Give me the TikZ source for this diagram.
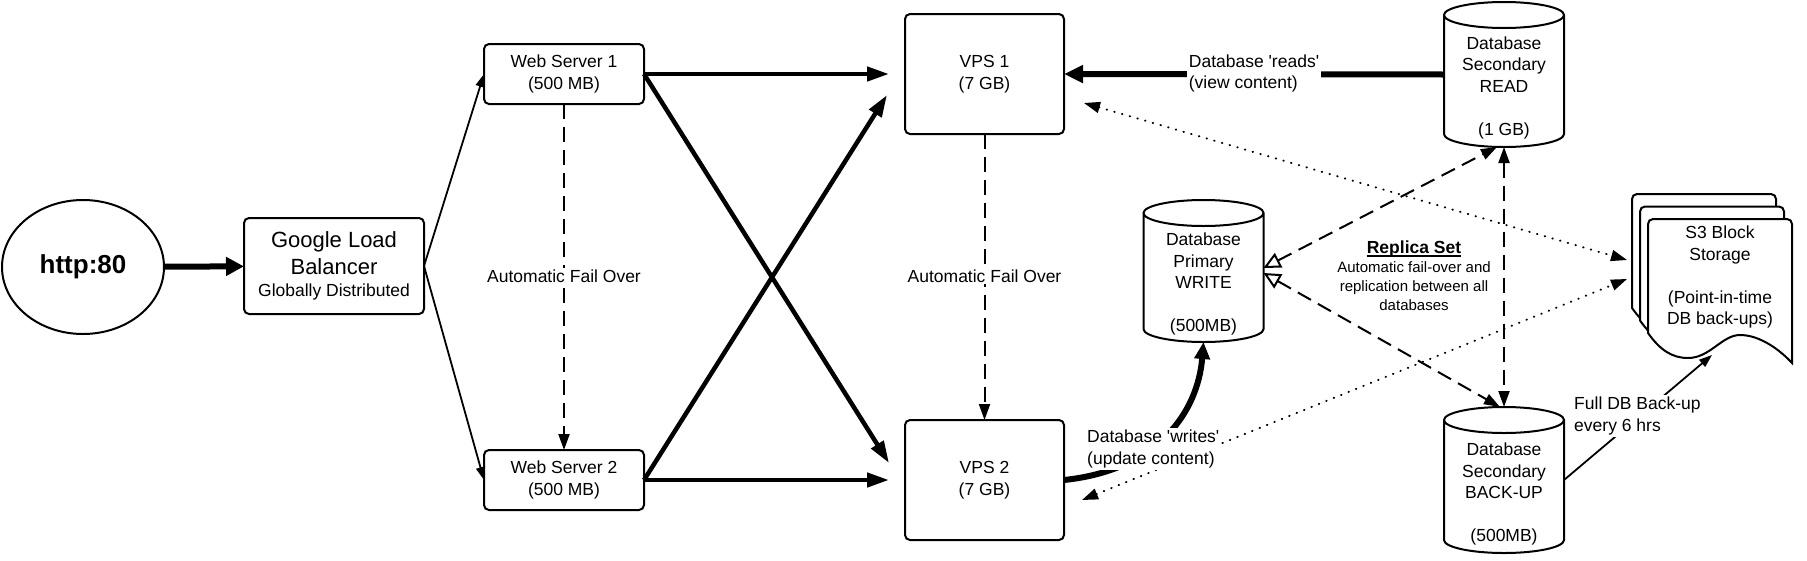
\documentclass[tikz,border=0pt]{standalone}
\usepackage{fontspec}
\setmainfont{Liberation Sans}
\usetikzlibrary{arrows.meta,shapes.geometric}
\newcommand{\drawcyl}[1]{%
  \draw[line width=2pt] ([yshift=-13pt]#1.north west) -- ([yshift=13pt]#1.south west)
    arc[start angle=180,end angle=360,x radius=60pt,y radius=13pt]
    -- ([yshift=-13pt]#1.north east)
    arc[start angle=0,end angle=360,x radius=60pt,y radius=13pt];}
\newcommand{\drawdoc}[1]{%
  \draw[line width=2pt,fill=white,shift={(-#1,1.5625*#1)}]
    (1648,-333) [rounded corners=5pt] -- (1648,-219) -- (1792,-219) -- (1792,-290) [sharp corners] -- (1792,-363)
    .. controls (1780,-350) and (1760,-335) .. (1740,-335)
    .. controls (1722,-335) and (1710,-358) .. (1688,-358)
    .. controls (1672,-358) and (1660,-350) .. (1648,-333) -- cycle;}
\begin{document}
\begin{tikzpicture}[x=1pt,y=1pt,
  every node/.style={font=\fontsize{17.5}{21.5}\selectfont},
  box/.style={draw,line width=2pt,rounded corners=5pt,align=center,inner sep=0pt,outer sep=0pt},
  holder/.style={inner sep=0pt,outer sep=0pt,minimum width=120pt},
  txt/.style={align=center,inner sep=0pt},
  lbl/.style={fill=white,align=left,inner sep=2pt},
  fatarrow/.style={line width=6pt,-{Triangle[length=19pt,width=17pt]}},
  medarrow/.style={line width=4.5pt,-{Triangle[length=22pt,width=14pt]}},
  thinarrow/.style={line width=1.8pt,-{Triangle[length=13pt,width=9pt]}},
  dashline/.style={line width=2pt,dash pattern=on 15pt off 8pt},
  dotline/.style={line width=2pt,line cap=round,dash pattern=on 0.5pt off 7.5pt},
  failtxt/.style={fill=white,inner sep=2pt}
]
\useasboundingbox (0,0) rectangle (1807,-560);

% nodes
\node[ellipse,draw,line width=2pt,minimum width=162pt,minimum height=134pt,inner sep=0pt,
      font=\fontsize{26}{30}\selectfont\bfseries] (http) at (83,-267) {http:80};
\node[box,minimum width=180pt,minimum height=96pt] (lb) at (334,-266) {};
\node[txt,font=\fontsize{22}{27}\selectfont] (lbt) at (334,-253.5) {Google Load\\Balancer};
\node[txt] (lbs) at (334,-291.5) {Globally Distributed};

\node[box,minimum width=160pt,minimum height=60pt] (ws1) at (564,-74) {Web Server 1\\(500 MB)};
\node[box,minimum width=160pt,minimum height=60pt] (ws2) at (564,-480) {Web Server 2\\(500 MB)};
\node[box,minimum width=159pt,minimum height=120pt] (vps1) at (984.5,-74) {VPS 1\\(7 GB)};
\node[box,minimum width=159pt,minimum height=120pt] (vps2) at (984.5,-480) {VPS 2\\(7 GB)};

\node[holder,minimum height=145pt] (dbread) at (1504,-74.5) {};
\node[holder,minimum height=142pt] (dbprim) at (1203.5,-271) {};
\node[holder,minimum height=146pt] (dbback) at (1504,-480) {};
\drawcyl{dbread}
\drawcyl{dbprim}
\drawcyl{dbback}
\node[txt] (dbreadt) at ([yshift=-13pt]dbread.center) {Database\\Secondary\\READ\\\mbox{}\\(1 GB)};
\node[txt] (dbprimt) at ([yshift=-13pt]dbprim.center) {Database\\Primary\\WRITE\\\mbox{}\\(500MB)};
\node[txt] (dbbackt) at ([yshift=-14pt]dbback.center) {Database\\Secondary\\BACK-UP\\\mbox{}\\(500MB)};

\drawdoc{16}
\drawdoc{8}
\drawdoc{0}
\node[inner sep=0pt,outer sep=0pt,minimum width=144pt,minimum height=144pt] (s3) at (1720,-291) {};
\node[txt] (s3t) at (1720,-277) {S3 Block\\Storage\\\mbox{}\\(Point-in-time\\DB back-ups)};
\coordinate (s3wave) at (1712,-355);

\node[txt,font=\fontsize{17.5}{19}\selectfont\bfseries] (rtitle) at (1414,-248.8) {Replica Set};
\draw[line width=1.4pt] ([yshift=1pt]rtitle.south west) -- ([yshift=1pt]rtitle.south east);
\node[txt,font=\fontsize{15}{19}\selectfont] (replica) at (1414,-286)
  {Automatic fail-over and\\replication between all\\databases};

% connectors
\draw[line width=6pt,-{Triangle[length=18pt,width=18pt]}] (http) -- (lb);
\draw[thinarrow] (lb.east) -- (ws1.west);
\draw[thinarrow] (lb.east) -- (ws2.west);

\draw[medarrow] (ws1.east) -- ([xshift=-16pt]vps1.west);
\draw[medarrow] (ws1.east) -- ([xshift=-16pt,yshift=17pt]vps2.west);
\draw[medarrow] (ws2.east) -- ([xshift=-18pt,yshift=-21pt]vps1.west);
\draw[medarrow] (ws2.east) -- ([xshift=-16pt]vps2.west);

\draw[dashline,-{Triangle[length=16pt,width=11pt]}] (ws1) -- node[failtxt,yshift=1pt] {Automatic Fail Over} (ws2);
\draw[dashline,-{Triangle[length=16pt,width=11pt]}] (vps1) -- node[failtxt,yshift=1pt] {Automatic Fail Over} (vps2);

\draw[fatarrow] (dbread.west) -- node[lbl,yshift=1pt] {Database \textquotesingle reads\textquotesingle\\(view content)} (vps1.east);

\draw[dotline,{Triangle[length=16pt,width=11pt]}-{Triangle[length=16pt,width=11pt]}]
  ([xshift=20pt,yshift=-29pt]vps1.east) -- ([xshift=-21pt,yshift=31pt]s3.west);
\draw[dotline,{Triangle[length=16pt,width=11pt]}-{Triangle[length=16pt,width=11pt]}]
  ([xshift=18pt,yshift=-20pt]vps2.east) -- ([xshift=-21pt,yshift=12pt]s3.west);

\draw[line width=6pt,-{Triangle[length=17pt,width=15pt]}] (vps2.east) .. controls (1160,-470) and (1198,-410) .. (dbprim.south);
\node[lbl,anchor=west] (wlbl) at (1085,-449) {Database \textquotesingle writes\textquotesingle\\(update content)};

\draw[dashline,{Triangle[open,length=17pt,width=16pt]}-{Triangle[length=16pt,width=11pt]}]
  ([yshift=3pt]dbprim.east) -- ([xshift=-7pt]dbread.south);
\draw[dashline,{Triangle[open,length=17pt,width=16pt]}-{Triangle[length=16pt,width=11pt]}]
  ([yshift=-2pt]dbprim.east) -- ([xshift=-4pt]dbback.north);
\draw[dashline,{Triangle[length=16pt,width=11pt]}-{Triangle[length=16pt,width=11pt]}]
  (dbread.south) -- (dbback.north);

\draw[thinarrow] (dbback.east) -- (s3wave);
\node[lbl,anchor=west] (flbl) at (1572,-416) {Full DB Back-up\\every 6 hrs};
\end{tikzpicture}
\end{document}
